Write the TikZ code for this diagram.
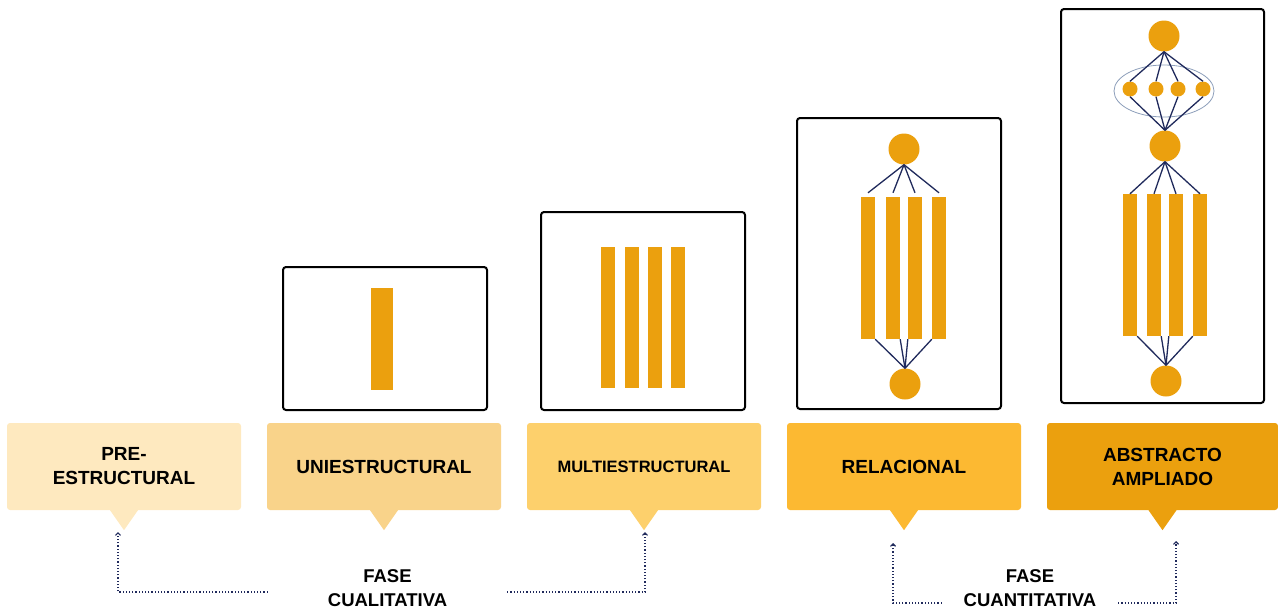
\documentclass[tikz,border=0pt]{standalone}
\usepackage{fontspec}
\newfontfamily\lblfont{Liberation Sans}
\usetikzlibrary{arrows.meta}
\definecolor{gold}{RGB}{235,160,14}
\definecolor{navy}{RGB}{32,42,92}
\definecolor{haze}{RGB}{140,158,186}
\definecolor{lvlA}{RGB}{254,233,191}
\definecolor{lvlB}{RGB}{249,211,138}
\definecolor{lvlC}{RGB}{253,208,108}
\definecolor{lvlD}{RGB}{252,185,50}
\definecolor{lvlE}{RGB}{235,160,14}
\tikzset{
  frame/.style={draw=black, line width=2pt, rounded corners=3pt},
  bar/.style={fill=gold, draw=none, inner sep=0pt, minimum width=14pt},
  dot/.style={circle, fill=gold, draw=none, inner sep=0pt, minimum size=#1},
  dot/.default=31pt,
  link/.style={draw=navy, line width=1.3pt},
  level/.style={fill=#1, draw=none, rounded corners=3pt, inner sep=0pt,
    minimum width=234pt, minimum height=87pt, align=center,
    font=\lblfont\fontsize{19}{24}\selectfont\bfseries},
  phase/.style={draw=navy, dotted, line width=1.2pt,
    -{Straight Barb[length=2.5pt,width=5pt]}},
  phaselbl/.style={fill=white, inner sep=0pt, minimum height=46pt, align=center,
    font=\lblfont\fontsize{18.5}{24}\selectfont\bfseries}
}
\begin{document}
\begin{tikzpicture}[x=1pt, y=-1pt]
      \useasboundingbox (0,0) rectangle (1278,611);

      \node[level=lvlA] (pre) at (124,466.5) {PRE-\\ESTRUCTURAL};
      \node[level=lvlB] (uni) at (384,466.5) {UNIESTRUCTURAL};
      \node[level=lvlC, font=\lblfont\fontsize{16.5}{22}\selectfont\bfseries]
        (multi) at (644,466.5) {MULTIESTRUCTURAL};
      \node[level=lvlD] (rel) at (904,466.5) {RELACIONAL};
      \node[level=lvlE, minimum width=231pt] (abs) at (1162.5,466.5) {ABSTRACTO\\AMPLIADO};
      \foreach \lv/\col in {pre/lvlA, uni/lvlB, multi/lvlC, rel/lvlD, abs/lvlE}
        \fill[\col] ([xshift=-14pt]\lv.south) -- ([xshift=14pt]\lv.south)
          -- ([yshift=-20pt]\lv.south) -- cycle;

      \draw[frame] (283,267) rectangle (487,410);
      \node[bar, minimum width=22pt, minimum height=102pt] (u1) at (382,339) {};

      \draw[frame] (541,212) rectangle (745,410);
      \foreach \x [count=\i] in {608,632,655,678}
        \node[bar, minimum height=141pt] (m\i) at (\x,317.5) {};

      \draw[frame] (797,118) rectangle (1001,409);
      \node[dot] (rtop) at (904,149) {};
      \node[dot] (rbot) at (905,384) {};
      \foreach \x [count=\i] in {868,893,915,939}
        \node[bar, minimum height=142pt] (r\i) at (\x,268) {};
      \foreach \i in {1,...,4}
        \draw[link] (rtop.south) -- ([yshift=4pt]r\i.north);
      \draw[link] (r1.south east) -- (rbot.north);
      \draw[link] (r2.south east) -- (rbot.north);
      \draw[link] (r3.south west) -- (rbot.north);
      \draw[link] (r4.south west) -- (rbot.north);

      \draw[frame] (1061,9) rectangle (1264,403);
      \draw[haze, line width=0.8pt] (1164,91) ellipse (50 and 26);
      \node[dot] (atop) at (1164,36) {};
      \node[dot] (amid) at (1165,146) {};
      \node[dot] (abot) at (1166,381) {};
      \foreach \x [count=\i] in {1130,1156,1178,1203}
        \node[dot=15pt] (s\i) at (\x,89) {};
      \foreach \x [count=\i] in {1130,1154,1176,1200}
        \node[bar, minimum height=142pt] (b\i) at (\x,265) {};
      \foreach \i in {1,...,4} {
        \draw[link] (atop.south) -- (s\i.north);
        \draw[link] (s\i.south) -- (amid.north);
        \draw[link] (amid.south) -- (b\i.north);
      }
      \draw[link] (b1.south east) -- (abot.north);
      \draw[link] (b2.south east) -- (abot.north);
      \draw[link] (b3.south west) -- (abot.north);
      \draw[link] (b4.south west) -- (abot.north);

      \coordinate (q1) at (118,532);
      \coordinate (q2) at (645,532);
      \coordinate (n1) at (893,543);
      \coordinate (n2) at (1176,541);
      \node[phaselbl, minimum width=239pt] (cual) at (387.5,588) {FASE\\CUALITATIVA};
      \node[phaselbl, minimum width=176pt] (cuan) at (1030,588) {FASE\\CUANTITATIVA};
      \draw[phase] ([yshift=-4pt]cual.west) -| (q1);
      \draw[phase] ([yshift=-4pt]cual.east) -| (q2);
      \draw[phase] ([yshift=-15pt]cuan.west) -| (n1);
      \draw[phase] ([yshift=-15pt]cuan.east) -| (n2);

    \end{tikzpicture}
\end{document}
